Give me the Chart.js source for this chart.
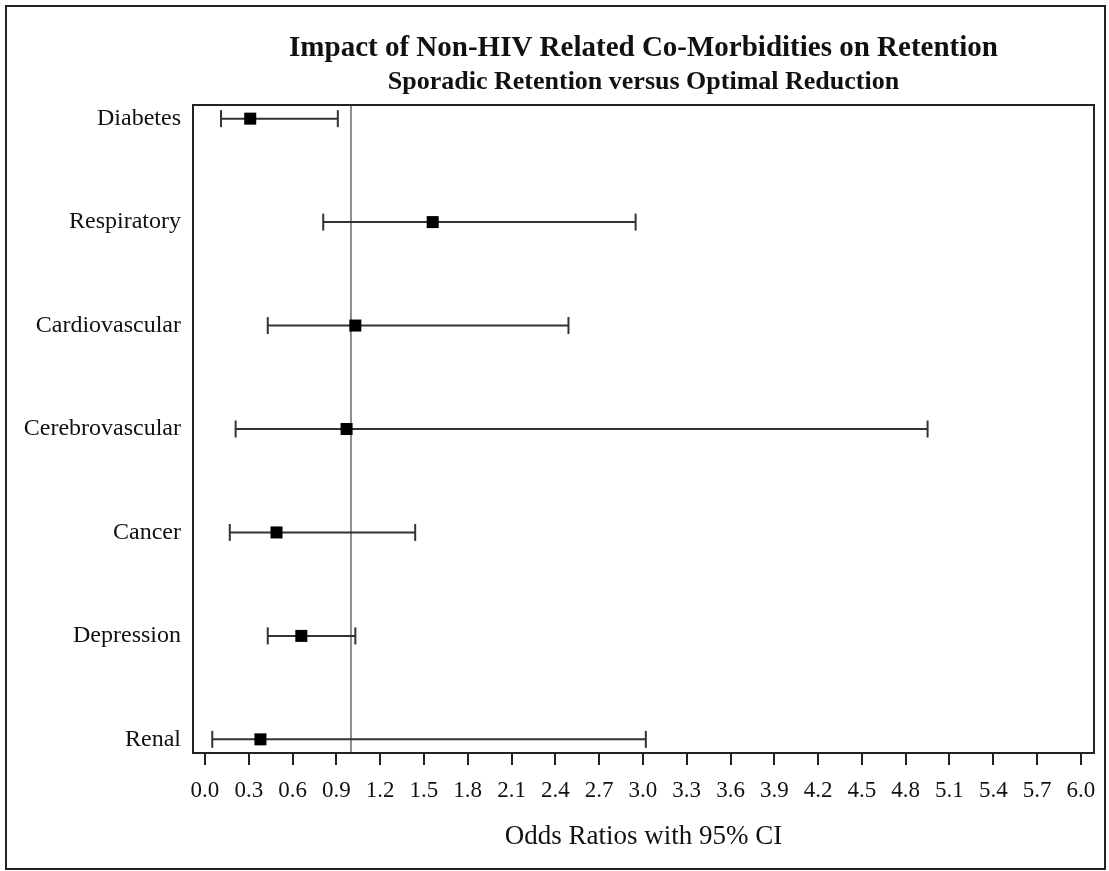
<!DOCTYPE html>
<html>
<head>
<meta charset="utf-8">
<title>Impact of Non-HIV Related Co-Morbidities on Retention</title>
<script src="https://cdn.jsdelivr.net/npm/chart.js@4.4.1/dist/chart.umd.min.js"></script>
<style>
  html, body { margin: 0; padding: 0; background: #fff; }
  #wrap { position: relative; width: 1109px; height: 871px; }
  #frame { position: absolute; left: 5px; top: 5px; width: 1101px; height: 865px; border: 2px solid #222; box-sizing: border-box; pointer-events: none; }
  canvas { position: absolute; left: 0; top: 0; }
</style>
</head>
<body>
<div id="wrap">
  <canvas id="forest"></canvas>
  <div id="frame"></div>
</div>
<script>
// co-morbidities, top to bottom
const categories = ['Diabetes', 'Respiratory', 'Cardiovascular', 'Cerebrovascular', 'Cancer', 'Depression', 'Renal'];
// odds ratios and 95% CI bounds
const oddsRatio = [0.31, 1.56, 1.03, 0.97, 0.49, 0.66, 0.38];
const lowerCI   = [0.11, 0.81, 0.43, 0.21, 0.17, 0.43, 0.05];
const upperCI   = [0.91, 2.95, 2.49, 4.95, 1.44, 1.03, 3.02];
const xTicks = [0.0, 0.3, 0.6, 0.9, 1.2, 1.5, 1.8, 2.1, 2.4, 2.7, 3.0, 3.3, 3.6, 3.9, 4.2, 4.5, 4.8, 5.1, 5.4, 5.7, 6.0];
const refLine = 1.0;

const serif = "'Liberation Serif', 'Times New Roman', serif";
const ink = '#111';
const barColor = '#333';

// one little line dataset per row: low -> high with vertical caps
const whiskers = categories.map((c, i) => ({
    type: 'scatter',
    label: c,
    data: [{x: lowerCI[i], y: i}, {x: upperCI[i], y: i}],
    showLine: true,
    borderColor: barColor,
    borderWidth: 2,
    pointStyle: 'line',
    rotation: 90,
    pointRadius: 8.5,
    pointBorderWidth: 2,
    pointBorderColor: barColor,
    order: 2
}));

const points = {
    type: 'scatter',
    label: 'Odds Ratio',
    data: categories.map((c, i) => ({x: oddsRatio[i], y: i})),
    pointStyle: 'rect',
    pointRadius: 8.5,
    pointBackgroundColor: '#000',
    pointBorderColor: '#000',
    pointBorderWidth: 0,
    order: 1
};

// vertical line at OR = 1 and the box round the plot
const extras = {
    id: 'extras',
    beforeDatasetsDraw(chart) {
        const {ctx, chartArea, scales} = chart;
        const x = scales.x.getPixelForValue(refLine);
        ctx.save();
        ctx.strokeStyle = '#8c8c8c';
        ctx.lineWidth = 2;
        ctx.beginPath();
        ctx.moveTo(x, chartArea.top);
        ctx.lineTo(x, chartArea.bottom);
        ctx.stroke();
        ctx.restore();
    },
    afterDatasetsDraw(chart) {
        const {ctx, chartArea} = chart;
        ctx.save();
        ctx.strokeStyle = '#222';
        ctx.lineWidth = 2;
        ctx.strokeRect(chartArea.left, chartArea.top, chartArea.right - chartArea.left, chartArea.bottom - chartArea.top);
        ctx.restore();
    }
};

const canvas = document.getElementById('forest');
canvas.width = 1109;
canvas.height = 871;

new Chart(canvas, {
    type: 'scatter',
    data: { datasets: [...whiskers, points] },
    options: {
        responsive: false,
        animation: false,
        events: [],
        layout: { padding: { left: 0, right: 15, top: 0, bottom: 18 } },
        plugins: {
            legend: { display: false },
            tooltip: { enabled: false },
            title: {
                display: true,
                fullSize: false,
                text: 'Impact of Non-HIV Related Co-Morbidities on Retention',
                color: ink,
                font: { family: serif, size: 29, weight: 'bold', lineHeight: 1 },
                padding: { top: 34, bottom: 0 }
            },
            subtitle: {
                display: true,
                fullSize: false,
                text: 'Sporadic Retention versus Optimal Reduction',
                color: ink,
                font: { family: serif, size: 26, weight: 'bold', lineHeight: 1 },
                padding: { top: 6, bottom: 10 }
            }
        },
        scales: {
            x: {
                type: 'linear',
                min: -0.082,
                max: 6.09,
                afterBuildTicks: (scale) => { scale.ticks = xTicks.map(v => ({value: v})); },
                border: { display: false },
                grid: { display: true, drawOnChartArea: false, drawTicks: true, tickLength: 12, color: '#222', lineWidth: 2 },
                ticks: {
                    color: ink,
                    font: { family: serif, size: 23 },
                    padding: 12,
                    maxRotation: 0,
                    autoSkip: false,
                    callback: (v) => Number(v).toFixed(1)
                },
                title: {
                    display: true,
                    text: 'Odds Ratios with 95% CI',
                    color: ink,
                    font: { family: serif, size: 27 },
                    padding: { top: 4, bottom: 0 }
                }
            },
            y: {
                type: 'linear',
                reverse: true,
                min: -0.132,
                max: 6.132,
                afterBuildTicks: (scale) => { scale.ticks = categories.map((c, i) => ({value: i})); },
                afterFit: (scale) => { scale.width = 193; },
                border: { display: false },
                grid: { display: false, drawTicks: false },
                ticks: {
                    color: ink,
                    font: { family: serif, size: 24 },
                    padding: 12,
                    autoSkip: false,
                    callback: (v) => categories[v]
                }
            }
        }
    },
    plugins: [extras]
});
</script>
</body>
</html>
